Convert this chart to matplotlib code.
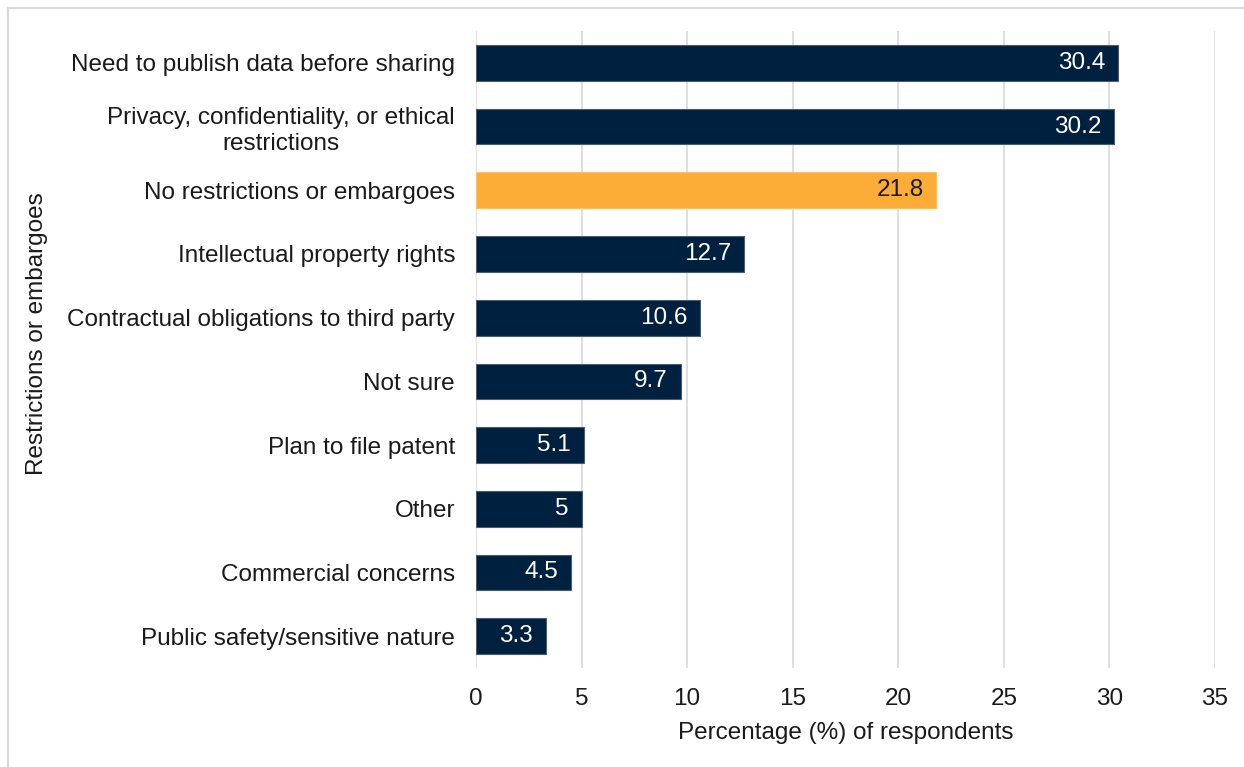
import matplotlib.pyplot as plt
from matplotlib.lines import Line2D

categories = [
    'Need to publish data before sharing',
    'Privacy, confidentiality, or ethical\nrestrictions',
    'No restrictions or embargoes',
    'Intellectual property rights',
    'Contractual obligations to third party',
    'Not sure',
    'Plan to file patent',
    'Other',
    'Commercial concerns',
    'Public safety/sensitive nature',
]
values = [30.4, 30.2, 21.8, 12.7, 10.6, 9.7, 5.1, 5, 4.5, 3.3]
labels = ['30.4', '30.2', '21.8', '12.7', '10.6', '9.7', '5.1', '5', '4.5', '3.3']

navy = '#00203F'
orange = '#FBAD37'
colors = [orange if c.startswith('No restrictions') else navy for c in categories]
edges = ['#FCC066' if c == orange else '#4A5C70' for c in colors]

plt.rcParams['font.family'] = ['Liberation Sans', 'DejaVu Sans']
fs = 17.5

fig = plt.figure(figsize=(12.44, 7.67), dpi=100)
ax = fig.add_axes([0.3826, 0.129, 0.5941, 0.8306])

ypos = list(range(len(categories)))
ax.barh(ypos, values, height=0.56, color=colors, edgecolor=edges, linewidth=0.8, zorder=3)

for y, v, lab, c in zip(ypos, values, labels, colors):
    ax.text(v - 0.6, y, lab, ha='right', va='center', fontsize=fs,
            color='#1A1A1A' if c == orange else 'white', zorder=4)

ax.set_ylim(len(categories) - 0.5, -0.5)
ax.set_xlim(0, 35)
ax.set_xticks(range(0, 36, 5))
ax.set_yticks(ypos)
ax.set_yticklabels(categories, fontsize=fs, color='#1A1A1A', ha='right',
                   multialignment='center', linespacing=1.25)
ax.tick_params(axis='x', labelsize=fs, colors='#1A1A1A', length=0, pad=14)
ax.tick_params(axis='y', length=0, pad=15)
ax.xaxis.grid(True, color='#D9D9D9', linewidth=1.2, zorder=0)
for s in ax.spines.values():
    s.set_visible(False)

ax.set_xlabel('Percentage (%) of respondents', fontsize=fs, color='#1A1A1A', labelpad=9)
fig.text(0.03, 0.565, 'Restrictions or embargoes', rotation=90, ha='center', va='center',
         fontsize=fs, color='#1A1A1A')

# light frame on top and left edges only
fig.add_artist(Line2D([0.0065, 1.0], [0.9895, 0.9895], transform=fig.transFigure,
                      color='#D9D9D9', linewidth=1.5))
fig.add_artist(Line2D([0.0065, 0.0065], [0.0, 0.9895], transform=fig.transFigure,
                      color='#D9D9D9', linewidth=1.5))

fig.savefig('out.png', dpi=100)
